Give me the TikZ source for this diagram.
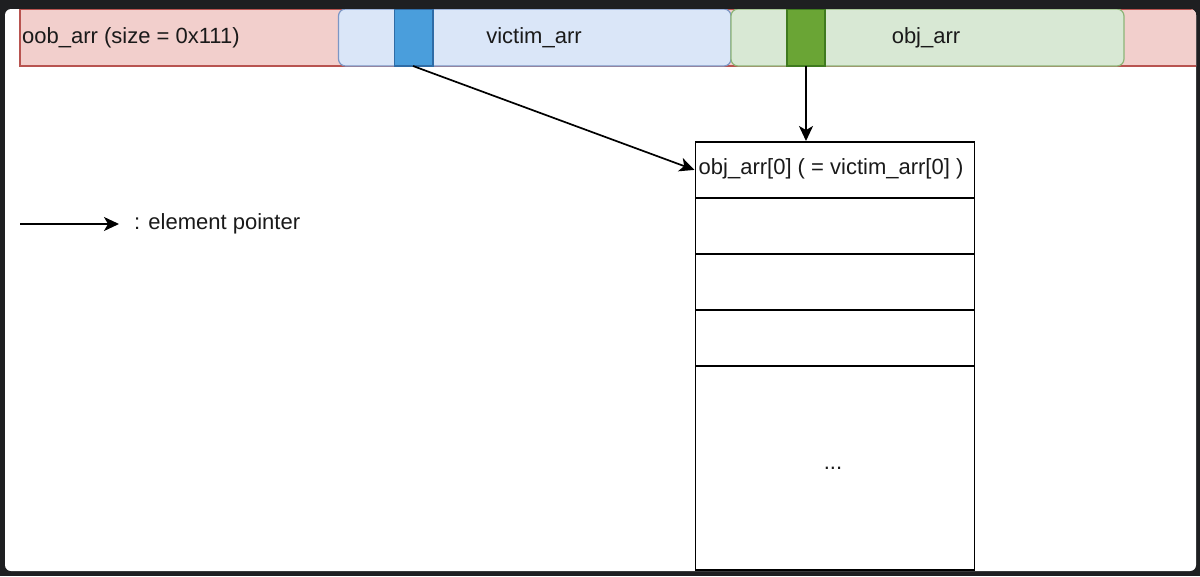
\documentclass[tikz,border=0pt]{standalone}
\usepackage{fontspec}
\setmainfont{Liberation Sans}
\usetikzlibrary{arrows.meta}
\definecolor{frame}{HTML}{1E1F21}
\definecolor{redfill}{HTML}{F2CFCC}
\definecolor{redline}{HTML}{B85450}
\definecolor{bluefill}{HTML}{DAE6F8}
\definecolor{blueline}{HTML}{7C96C4}
\definecolor{bluecell}{HTML}{4A9EDC}
\definecolor{bluecellline}{HTML}{2F6CA6}
\definecolor{greenfill}{HTML}{D8E8D4}
\definecolor{greenline}{HTML}{8DB577}
\definecolor{greencell}{HTML}{6AA535}
\definecolor{greencellline}{HTML}{3F7A1F}
\definecolor{txt}{HTML}{1A1A1A}
\tikzset{
  lbl/.style={font=\fontsize{22}{26}\selectfont, text=txt, inner sep=0pt},
  ptr/.style={draw=black, line width=1.7pt, -{Stealth[length=15pt,width=14pt,inset=4pt]}},
  cell/.style={draw=black, line width=1.8pt, fill=white},
}
\begin{document}
\begin{tikzpicture}[x=1pt,y=-1pt]
\fill[frame] (0,0) rectangle (1200,576);
\useasboundingbox (0,0) rectangle (1200,576);
\fill[white, rounded corners=6pt] (5,9) rectangle (1196,571);
\begin{scope}
\clip[rounded corners=6pt] (5,9) rectangle (1196,571);
% oob_arr bar
\draw[fill=redfill, draw=redline, line width=1.2pt] (20,9) rectangle (1200,66);
\node[lbl, anchor=west] (oob) at (22,38) {oob\_arr (size = 0x111)};
% victim_arr
\draw[fill=bluefill, draw=blueline, line width=1.2pt, rounded corners=7pt] (338.5,9) rectangle (731,66);
\draw[fill=bluecell, draw=bluecellline, line width=1.2pt] (394.5,9) rectangle (433,66);
\coordinate (vcell) at (413,66);
\node[lbl] (victim) at (534,38) {victim\_arr};
% obj_arr
\draw[fill=greenfill, draw=greenline, line width=1.2pt, rounded corners=7pt] (731,9) rectangle (1124,66);
\draw[fill=greencell, draw=greencellline, line width=1.2pt] (787,9) rectangle (825,66);
\coordinate (gcell) at (806,66);
\node[lbl] (obj) at (926,38) {obj\_arr};
% table
\node[cell, minimum width=279pt, minimum height=56pt, anchor=north west, inner sep=0pt] (r0) at (694.5,141) {};
\node[lbl, anchor=west] (r0t) at (698.5,169) {obj\_arr[0] ( = victim\_arr[0] )};
\node[cell, minimum width=279pt, minimum height=56pt, anchor=north west, inner sep=0pt] (r1) at (694.5,197) {};
\node[cell, minimum width=279pt, minimum height=56pt, anchor=north west, inner sep=0pt] (r2) at (694.5,253) {};
\node[cell, minimum width=279pt, minimum height=56pt, anchor=north west, inner sep=0pt] (r3) at (694.5,309) {};
\node[cell, minimum width=279pt, minimum height=204pt, anchor=north west, inner sep=0pt] (r4) at (694.5,365) {};
\node[lbl] (dots) at (833,468) {...};
% arrows
\draw[ptr] (vcell) -- (r0.west);
\draw[ptr] (gcell) -- (gcell |- r0.north);
% legend
\coordinate (ls) at (20,224);
\coordinate (le) at (119,224);
\draw[ptr] (ls) -- (le);
\node[lbl, anchor=west] (legend) at (134,224) {: element pointer};
\end{scope}
\end{tikzpicture}
\end{document}
